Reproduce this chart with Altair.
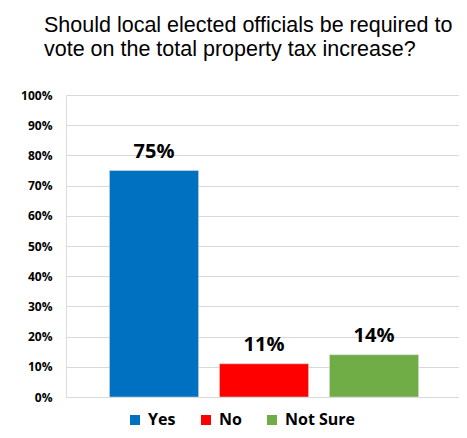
import altair as alt
import pandas as pd

categories = ["Yes", "No", "Not Sure"]
values = [75, 11, 14]
labels = ["75%", "11%", "14%"]
colors = ["#0070C0", "#FF0000", "#70AD47"]
title_lines = ["Should local elected officials be required to",
               "vote on the total property tax increase?"]

df = pd.DataFrame({"cat": categories, "val": [v / 100 for v in values], "lab": labels})

FONT = "Open Sans"

x = alt.X("cat:N", sort=categories,
          scale=alt.Scale(paddingInner=0.19, paddingOuter=0.3813, align=0.518),
          axis=alt.Axis(title=None, labels=False, ticks=False, domain=True,
                        domainColor="#d9d9d9", domainWidth=1))
y = alt.Y("val:Q", scale=alt.Scale(domain=[0, 1], nice=False),
          axis=alt.Axis(title=None, format=".0%", values=[i / 10 for i in range(11)],
                        tickCount=11, domain=False, ticks=False, labelPadding=14,
                        labelFont=FONT, labelFontSize=12, labelFontWeight="bold",
                        labelColor="#000000", gridColor="#d9d9d9", gridWidth=1))

bars = alt.Chart(df).mark_bar(stroke="#e0e0e0", strokeWidth=0.5).encode(
    x=x, y=y,
    color=alt.Color("cat:N", sort=categories,
                    scale=alt.Scale(domain=categories, range=colors),
                    legend=alt.Legend(title=None, orient="none", direction="horizontal",
                                      legendX=61, legendY=317, padding=0,
                                      symbolType="square", symbolSize=100,
                                      symbolStrokeWidth=0, symbolOpacity=1,
                                      labelFont=FONT, labelFontSize=16,
                                      labelFontWeight="bold", labelColor="#000000",
                                      labelOffset=5, columnPadding=22)),
)

text = alt.Chart(df).mark_text(baseline="alphabetic", dy=-13, font=FONT,
                               fontSize=20, fontWeight="bold", color="#000000").encode(
    x=alt.X("cat:N", sort=categories), y="val:Q", text="lab:N")

chart = (bars + text).properties(
    width=393, height=302,
    autosize=alt.AutoSizeParams(type="none"),
    padding={"left": 58, "top": 87, "right": 0, "bottom": 33},
    title=alt.TitleParams(text=title_lines, anchor="start", frame="group", dx=-22,
                          offset=29, font="Liberation Sans", fontSize=21.5,
                          fontWeight="normal", color="#000000", lineHeight=24),
).configure_view(stroke=None).configure(background="white")

chart.save("out.html", embed_options={"renderer": "svg", "actions": False})
